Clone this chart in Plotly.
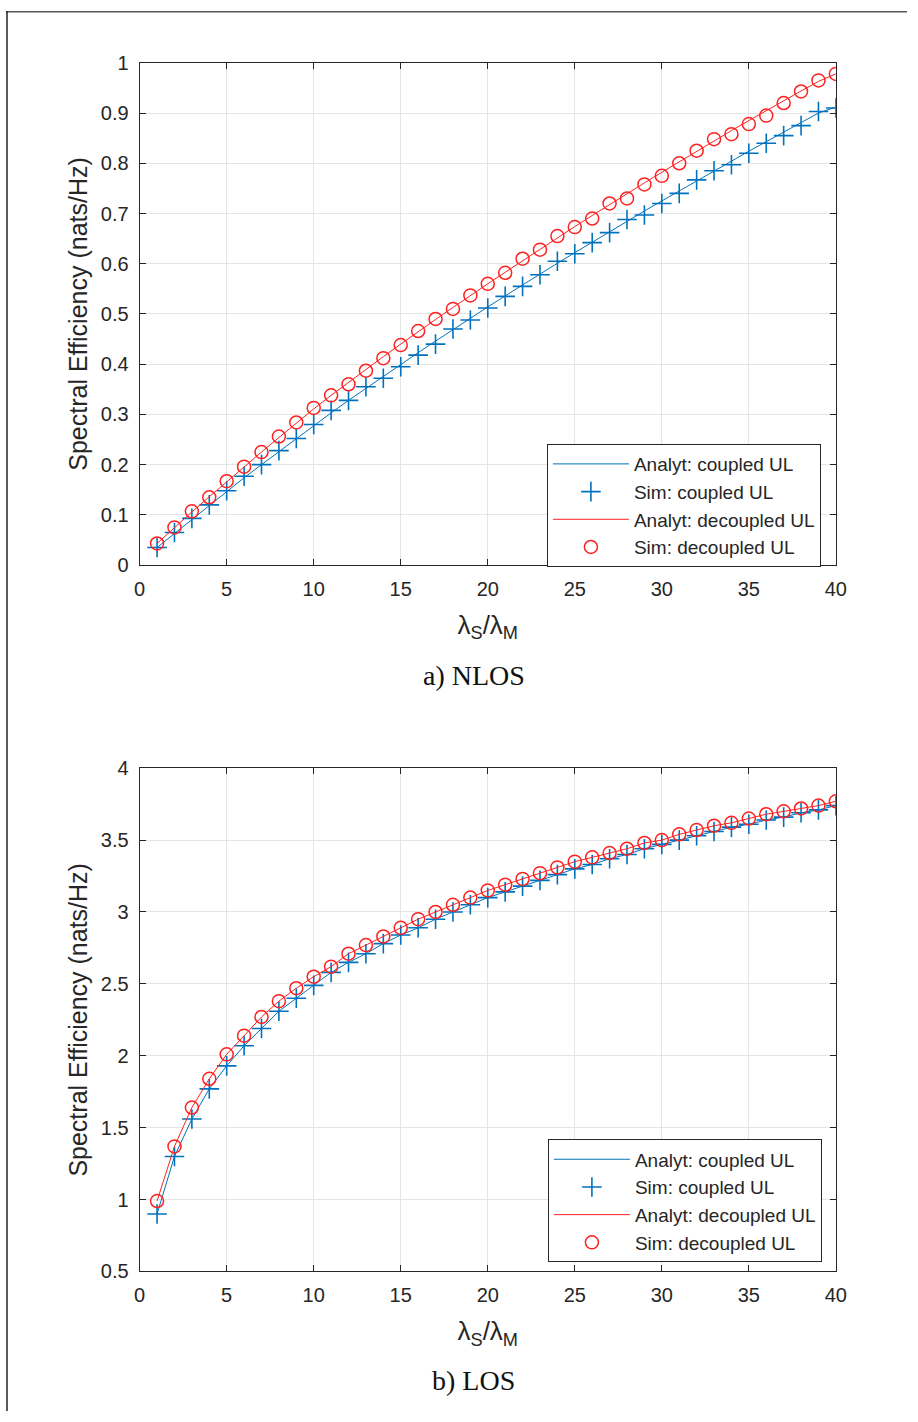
import plotly.graph_objects as go

x_vals = list(range(1, 41))

# NLOS (a)
nlos_coupled_analyt = [0.035, 0.063, 0.091, 0.119, 0.147, 0.174, 0.200, 0.226, 0.252, 0.278,
                       0.303, 0.328, 0.352, 0.376, 0.400, 0.423, 0.446, 0.469, 0.492, 0.514,
                       0.536, 0.558, 0.580, 0.601, 0.622, 0.643, 0.664, 0.685, 0.705, 0.725,
                       0.745, 0.765, 0.785, 0.805, 0.824, 0.843, 0.862, 0.881, 0.900, 0.912]
nlos_coupled_sim = [0.035, 0.065, 0.093, 0.120, 0.148, 0.177, 0.200, 0.228, 0.252, 0.280,
                    0.308, 0.328, 0.355, 0.372, 0.395, 0.418, 0.440, 0.470, 0.488, 0.512,
                    0.535, 0.555, 0.578, 0.605, 0.620, 0.642, 0.662, 0.688, 0.697, 0.720,
                    0.740, 0.767, 0.785, 0.797, 0.820, 0.840, 0.855, 0.875, 0.903, 0.910]
nlos_decoupled_analyt = [0.043, 0.075, 0.106, 0.136, 0.166, 0.196, 0.225, 0.254, 0.283, 0.311,
                         0.338, 0.364, 0.390, 0.415, 0.440, 0.465, 0.489, 0.513, 0.537, 0.560,
                         0.583, 0.606, 0.629, 0.652, 0.674, 0.696, 0.718, 0.740, 0.761, 0.782,
                         0.803, 0.824, 0.845, 0.865, 0.885, 0.905, 0.925, 0.944, 0.963, 0.978]
nlos_decoupled_sim = [0.043, 0.075, 0.107, 0.135, 0.167, 0.196, 0.225, 0.256, 0.284, 0.313,
                      0.338, 0.360, 0.387, 0.412, 0.438, 0.466, 0.490, 0.510, 0.537, 0.560,
                      0.582, 0.610, 0.628, 0.655, 0.673, 0.690, 0.720, 0.730, 0.758, 0.775,
                      0.800, 0.825, 0.848, 0.858, 0.878, 0.895, 0.920, 0.943, 0.965, 0.978]

# LOS (b)
los_coupled_sim = [0.90, 1.30, 1.56, 1.77, 1.93, 2.07, 2.19, 2.31, 2.40, 2.49,
                   2.58, 2.65, 2.71, 2.78, 2.84, 2.89, 2.95, 3.00, 3.05, 3.10,
                   3.14, 3.18, 3.22, 3.26, 3.30, 3.33, 3.37, 3.40, 3.44, 3.47,
                   3.50, 3.53, 3.56, 3.59, 3.61, 3.64, 3.66, 3.69, 3.71, 3.74]
los_coupled_analyt = los_coupled_sim
los_decoupled_sim = [0.99, 1.37, 1.64, 1.84, 2.01, 2.14, 2.27, 2.38, 2.47, 2.55,
                     2.62, 2.71, 2.77, 2.83, 2.89, 2.95, 3.00, 3.05, 3.10, 3.15,
                     3.19, 3.23, 3.27, 3.31, 3.35, 3.38, 3.41, 3.44, 3.48, 3.50,
                     3.54, 3.57, 3.60, 3.62, 3.65, 3.68, 3.70, 3.72, 3.74, 3.77]
los_decoupled_analyt = los_decoupled_sim

names = ["Analyt: coupled UL", "Sim: coupled UL", "Analyt: decoupled UL", "Sim: decoupled UL"]
x_ticks = [0, 5, 10, 15, 20, 25, 30, 35, 40]
y_ticks_a = [0, 0.1, 0.2, 0.3, 0.4, 0.5, 0.6, 0.7, 0.8, 0.9, 1]
y_ticks_b = [0.5, 1, 1.5, 2, 2.5, 3, 3.5, 4]
captions = ["a) NLOS", "b) LOS"]

BLUE = "#0072BD"
RED = "#FF2020"
W, H = 918, 1422
FONT = "Liberation Sans, Arial, sans-serif"
AX = "#262626"

# the photographed page is shown slightly shrunk and shifted; place items in target picture coords
S, OX, OY = 0.984, 5.0, 11.2

def px(v):
    return max(0.0, min(1.0, ((v - OX) / S) / W))

def py(v):
    return max(0.0, min(1.0, 1 - ((v - OY) / S) / H))

fig = go.Figure()

def add_set(xa, ya, legend, ca, cs, da, ds):
    fig.add_trace(go.Scatter(x=x_vals, y=ca, mode="lines", name=names[0], xaxis=xa, yaxis=ya,
                             legend=legend, line=dict(color=BLUE, width=1)))
    fig.add_trace(go.Scatter(x=x_vals, y=cs, mode="markers", name=names[1], xaxis=xa, yaxis=ya,
                             legend=legend,
                             marker=dict(symbol="cross-thin", size=14, line=dict(color=BLUE, width=1.6))))
    fig.add_trace(go.Scatter(x=x_vals, y=da, mode="lines", name=names[2], xaxis=xa, yaxis=ya,
                             legend=legend, line=dict(color=RED, width=1)))
    fig.add_trace(go.Scatter(x=x_vals, y=ds, mode="markers", name=names[3], xaxis=xa, yaxis=ya,
                             legend=legend,
                             marker=dict(symbol="circle-open", size=13, color=RED, line=dict(color=RED, width=1.5))))

add_set("x", "y", "legend", nlos_coupled_analyt, nlos_coupled_sim, nlos_decoupled_analyt, nlos_decoupled_sim)
add_set("x2", "y2", "legend2", los_coupled_analyt, los_coupled_sim, los_decoupled_analyt, los_decoupled_sim)

xdom = [px(139), px(837)]
axcommon = dict(showline=True, linecolor=AX, linewidth=1, mirror="ticks", ticks="inside", ticklen=6,
                tickcolor=AX, showgrid=True, gridcolor="#E5E5E5", gridwidth=1, zeroline=False,
                ticklabelstandoff=6,
                tickfont=dict(family=FONT, size=20, color=AX))

xtitle = dict(text="λ<sub>S</sub>/λ<sub>M</sub>", font=dict(family=FONT, size=26, color=AX), standoff=16)
ytitle = dict(text="Spectral Efficiency (nats/Hz)", font=dict(family=FONT, size=25, color=AX), standoff=6)

legcommon = dict(xanchor="right", yanchor="top", bgcolor="white",
                 bordercolor=AX, borderwidth=1, font=dict(family=FONT, size=19, color=AX),
                 itemwidth=76)

fig.update_layout(
    width=W, height=H, margin=dict(l=0, r=0, t=0, b=0),
    paper_bgcolor="white", plot_bgcolor="white", showlegend=True,
    xaxis=dict(domain=xdom, range=[0, 40], tickvals=x_ticks, anchor="y", title=xtitle, **axcommon),
    yaxis=dict(domain=[py(565), py(63)], range=[0, 1], tickvals=y_ticks_a,
               ticktext=[f"{v:g}" for v in y_ticks_a], anchor="x", title=ytitle, **axcommon),
    xaxis2=dict(domain=xdom, range=[0, 40], tickvals=x_ticks, anchor="y2", title=xtitle, **axcommon),
    yaxis2=dict(domain=[py(1271), py(768)], range=[0.5, 4], tickvals=y_ticks_b,
                ticktext=[f"{v:g}" for v in y_ticks_b], anchor="x2", title=ytitle, **axcommon),
    legend=dict(x=px(822), y=py(444), **legcommon),
    legend2=dict(x=px(823), y=py(1139), **legcommon),
)

for cap, yy in zip(captions, [675, 1380]):
    fig.add_annotation(text=cap, x=px(474), y=py(yy), xref="paper", yref="paper", showarrow=False,
                       xanchor="center", yanchor="middle",
                       font=dict(family="Liberation Serif, Times New Roman, serif", size=28, color="#111"))

# page frame lines (top and left)
fig.add_shape(type="line", xref="paper", yref="paper", x0=0, x1=1, y0=1 - 0.8 / H, y1=1 - 0.8 / H,
              line=dict(color="#555555", width=1.5))
fig.add_shape(type="line", xref="paper", yref="paper", x0=px(6), x1=px(6), y0=0, y1=1,
              line=dict(color="#222222", width=1.5))

fig.write_html("out.html", config={"displayModeBar": False},
               post_script="document.body.style.margin='0';document.body.style.overflow='hidden';")
